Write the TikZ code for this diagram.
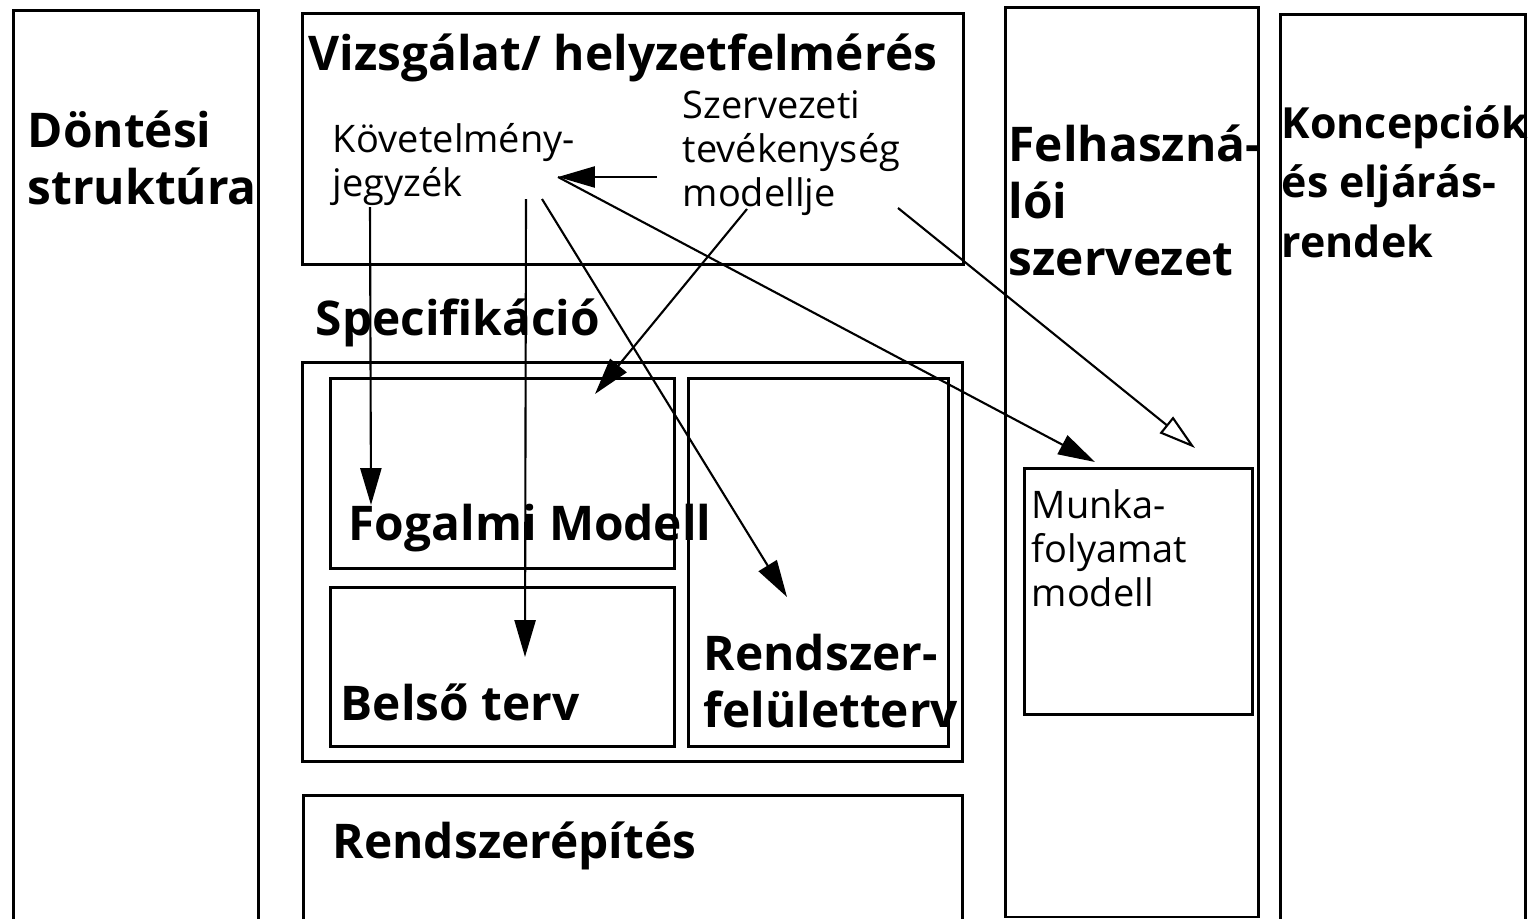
\documentclass[tikz,border=0pt]{standalone}
\usepackage{fontspec}
\setmainfont{Open Sans}
\usetikzlibrary{arrows.meta}
\tikzset{frame/.style={rectangle,draw=black,line width=0.8pt,anchor=north west,inner sep=0pt}}
\tikzset{title/.style={anchor=base west,inner sep=0pt,align=left,font=\fontsize{13.6}{16.2}\selectfont\bfseries}}
\tikzset{note/.style={anchor=base west,inner sep=0pt,align=left,font=\fontsize{10.8}{12.4}\selectfont}}
\tikzset{toArrow/.style={-{Triangle[length=10.5pt,width=6pt]},line width=0.6pt}}
\tikzset{openArrow/.style={-{Triangle[open,length=10.5pt,width=6pt]},line width=0.6pt}}

\begin{document}
\begin{tikzpicture}[x=0.01cm,y=-0.01cm]
\useasboundingbox (0,0) rectangle (1528,918);
\clip (0,0) rectangle (1528,918);
\begin{scope}
	% columns
	\node (dontbox) [frame,minimum width=2.45cm,minimum height=10cm] at (12,9) {};
	\node (felhbox) [frame,minimum width=2.53cm,minimum height=9.09cm] at (1004,6) {};
	\node (koncbox) [frame,minimum width=2.45cm,minimum height=10cm] at (1279,13) {};
	% middle column
	\node (vizsbox) [frame,minimum width=6.61cm,minimum height=2.51cm] at (301,12) {};
	\node (specbox) [frame,minimum width=6.60cm,minimum height=3.99cm] at (301,361) {};
	\node (fogbox) [frame,minimum width=3.44cm,minimum height=1.90cm] at (329,377) {};
	\node (belsobox) [frame,minimum width=3.44cm,minimum height=1.59cm] at (329,586) {};
	\node (felulbox) [frame,minimum width=2.60cm,minimum height=3.68cm] at (687,377) {};
	\node (epitbox) [frame,minimum width=6.59cm,minimum height=3cm] at (302,794) {};
	\node (munkabox) [frame,minimum width=2.28cm,minimum height=2.46cm] at (1023,467) {};

	% texts (anchored at the baseline of the last line)
	\node (dont) [title] at (27,204) {Döntési\\struktúra};
	\node (vizs) [title] at (308,70) {Vizsgálat/ helyzetfelmérés};
	\node (kov) [note] at (332,196) {Követelmény-\\jegyzék};
	\node (szerv) [note] at (682,206) {Szervezeti\\tevékenység\\modellje};
	\node (spec) [title] at (315,335) {Specifikáció};
	\node (fog) [title] at (348,540) {Fogalmi Modell};
	\node (belso) [title] at (340,720) {Belső terv};
	\node (felul) [title] at (703,727) {Rendszer-\\felületterv};
	\node (epit) [title] at (332,858) {Rendszerépítés};
	\node (felh) [title] at (1008,275) {Felhaszná-\\lói\\szervezet};
	\node (konc) [title,font=\fontsize{12.2}{16.8}\selectfont\bfseries] at (1281,257) {Koncepciók\\és eljárás-\\rendek};
	\node (munka) [note] at (1031,606) {Munka-\\folyamat\\modell};

	% arrow ends
	\coordinate (kovA) at (370,207);
	\coordinate (kovB) at (526,199);
	\coordinate (kovC) at (542,199);
	\coordinate (kovD) at (558,177);
	\coordinate (szervA) at (657,177);
	\coordinate (szervB) at (747,209);
	\coordinate (szervC) at (898,208);
	\coordinate (fogA) at (371,505);
	\coordinate (fogB) at (595,394);
	\coordinate (belsoA) at (525,657);
	\coordinate (felulA) at (787,597);
	\coordinate (munkaA) at (1095,462);
	\coordinate (munkaB) at (1195,448);

	\draw [toArrow] (kovA) -- (fogA);
	\draw [toArrow] (kovB) -- (belsoA);
	\draw [toArrow] (kovC) -- (felulA);
	\draw [toArrow] (szervA) -- (kovD);
	\draw [toArrow] (kovD) -- (munkaA);
	\draw [toArrow] (szervB) -- (fogB);
	\draw [openArrow] (szervC) -- (munkaB);
\end{scope}
\end{tikzpicture}
\end{document}
